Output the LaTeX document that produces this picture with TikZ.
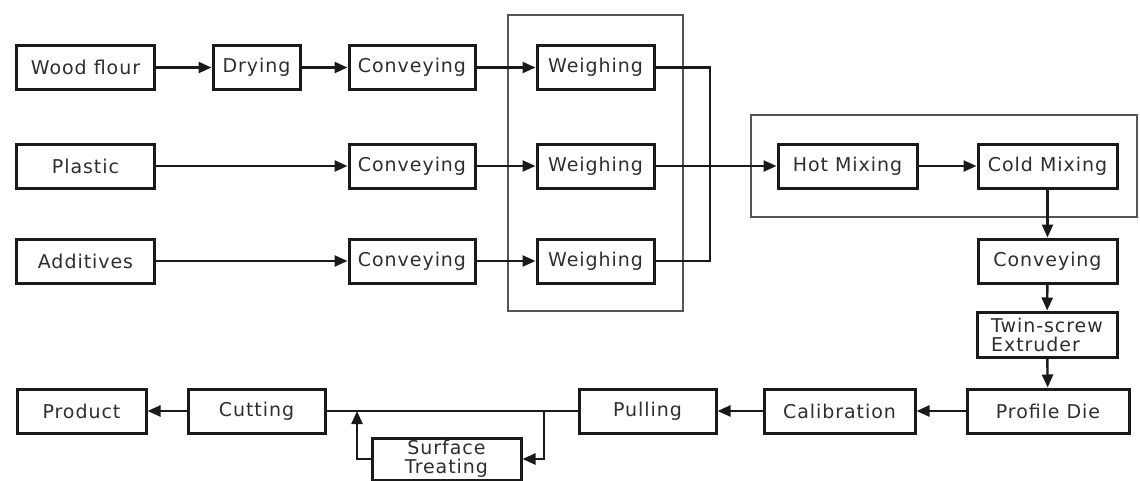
\documentclass[tikz,border=0pt]{standalone}
\usepackage{fontspec}
\setmainfont[LetterSpace=5]{DejaVu Sans}
\usepackage{tikz}
\usetikzlibrary{arrows.meta}

\definecolor{txtgray}{HTML}{2E2E2E}
\definecolor{linegray}{HTML}{1A1A1A}
\definecolor{grpgray}{HTML}{555555}

\begin{document}
\begin{tikzpicture}[x=1pt,y=-1pt,
  stage/.style={draw=linegray,line width=3pt,minimum height=44pt,inner sep=0pt,
    text=txtgray,font=\fontsize{19}{20}\selectfont,align=center},
  grp/.style={draw=grpgray,line width=1.8pt},
  >={Triangle[length=13pt,width=11pt]},
  every edge/.style={draw=linegray,line width=2.4pt}]
\useasboundingbox (0,0) rectangle (1140,480);

% group frames
\draw[grp] (508,15) rectangle (683,311);
\draw[grp] (751,115) rectangle (1137,217);

\node[stage,minimum width=138pt] (wood) at (85.5,67.5) {Wood flour};
\node[stage,minimum width=87pt] (dry) at (256.5,67.5) {Drying};
\node[stage,minimum width=126pt] (conva) at (412,67.5) {Conveying};
\node[stage,minimum width=117pt] (weigha) at (595.5,67.5) {Weighing};

\node[stage,minimum width=138pt] (plastic) at (85.5,166) {Plastic};
\node[stage,minimum width=126pt] (convb) at (412,166) {Conveying};
\node[stage,minimum width=117pt] (weighb) at (595.5,166) {Weighing};

\node[stage,minimum width=138pt] (additives) at (85.5,261) {Additives};
\node[stage,minimum width=126pt] (convc) at (412,261) {Conveying};
\node[stage,minimum width=117pt] (weighc) at (595.5,261) {Weighing};

\node[stage,minimum width=139pt] (hot) at (847.5,166) {Hot Mixing};
\node[stage,minimum width=139pt] (cold) at (1047.5,166) {Cold Mixing};
\node[stage,minimum width=139pt] (convd) at (1047.5,261) {Conveying};
\node[stage,minimum width=140pt,minimum height=45pt,align=left,font=\fontsize{19}{19}\selectfont] (twin) at (1047,334.5) {Twin-screw\\Extruder};
\node[stage,minimum width=162pt] (die) at (1048,411) {Profile Die};
\node[stage,minimum width=151pt] (calib) at (839.5,411) {Calibration};
\node[stage,minimum width=137pt] (pull) at (647.5,411) {Pulling};
\node[stage,minimum width=137pt] (cut) at (256.5,411) {Cutting};
\node[stage,minimum width=129pt] (product) at (81.5,411) {Product};
\node[stage,minimum width=149pt,minimum height=42pt,font=\fontsize{19}{19}\selectfont] (surf) at (446.5,459) {Surface\\Treating};

\coordinate (ja) at (710,67.5);
\coordinate (jc) at (710,261);
\coordinate (sa) at (544,411);
\coordinate (sb) at (544,459);
\coordinate (sc) at (357,459);
\coordinate (sd) at (357,411);

\path[]
(wood) edge[->] (dry)
(dry) edge[->] (conva)
(conva) edge[->] (weigha)
(plastic) edge[->] (convb)
(convb) edge[->] (weighb)
(additives) edge[->] (convc)
(convc) edge[->] (weighc)
(weighb) edge[->] (hot)
(hot) edge[->] (cold)
(cold) edge[->] (convd)
(convd) edge[->] (twin)
(twin) edge[->] (die)
(die) edge[->] (calib)
(calib) edge[->] (pull)
(pull) edge[] (cut)
(cut) edge[->] (product)
;
\draw[draw=linegray,line width=2.4pt] (weigha.east) -- (ja) -- (jc) -- (weighc.east);
\draw[draw=linegray,line width=2.4pt,->] (sa) -- (sb) -- (surf.east);
\draw[draw=linegray,line width=2.4pt,->] (surf.west) -- (sc) -- (sd);
\end{tikzpicture}
\end{document}
